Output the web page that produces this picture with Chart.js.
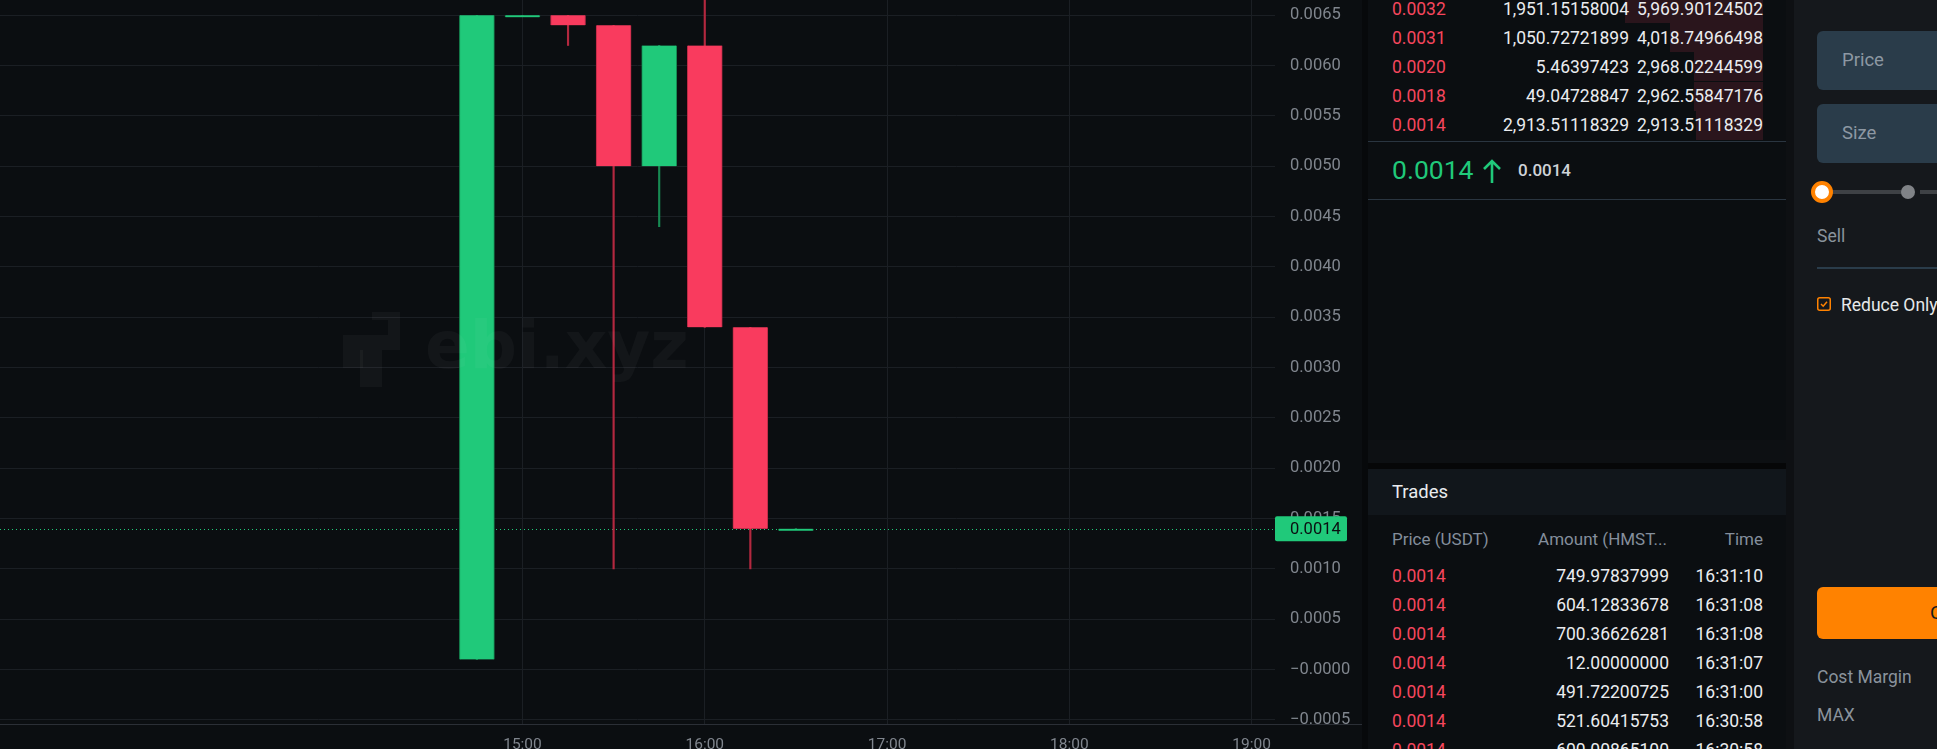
<!DOCTYPE html>
<html>
<head>
<meta charset="utf-8">
<script src="https://cdn.jsdelivr.net/npm/chart.js@4.4.1/dist/chart.umd.min.js"></script>
<style>
  body { margin: 0; width: 1937px; height: 749px; overflow: hidden; background: #0b0e11; font-family: Roboto, "Noto Sans", sans-serif; position: relative; }
  #chartBox { position: absolute; left: 0; top: 0; width: 1362px; height: 749px; }
  .strip { position: absolute; top: 0; height: 749px; }
  #book { position: absolute; left: 1368px; top: 0; width: 418px; height: 749px; background: #0b0e11; overflow: hidden; }
  .row { position: absolute; left: 0; width: 418px; height: 29px; line-height: 29px; font-size: 17.5px; }
  .row span { position: absolute; top: 0; white-space: nowrap; }
  .p { left: 24px; color: #f6465d; }
  .a { right: 157px; color: #eaecef; }
  .t { right: 23px; color: #eaecef; }
  .depth { position: absolute; right: 23px; height: 29px; background: #2a151c; }
  .line { position: absolute; left: 0; width: 418px; height: 1px; background: #2a3540; }
  #last span { position: absolute; white-space: nowrap; }
  #last .big { left: 24px; top: 152px; line-height: 36px; color: #20c97a; font-size: 26.5px; }
  #last .mark { left: 150px; top: 158px; line-height: 24px; color: #cfd3d8; font-size: 17px; font-weight: 500; }
  #last svg { position: absolute; left: 113px; top: 158px; }
  #trHead { position: absolute; left: 0; top: 469px; width: 418px; height: 46px; background: #11161b; }
  #trHead span { position: absolute; left: 24px; top: 0; line-height: 46px; font-size: 18.5px; color: #eaecef; }
  .hd { color: #848e9c !important; }
  #side { position: absolute; left: 1794px; top: 0; width: 143px; height: 749px; background: #15181c; overflow: hidden; }
  .lbl { position: absolute; left: 23px; font-size: 17.5px; color: #8a939c; white-space: nowrap; line-height: 22px; }
  .inp { position: absolute; left: 23px; width: 200px; height: 59px; background: #2a3c4a; border-radius: 6px; }
  .inp span { position: absolute; left: 25px; top: 0; line-height: 59px; font-size: 18.5px; color: #8d98a3; }
</style>
</head>
<body>
<div id="chartBox"><canvas id="chart"></canvas></div>
<div class="strip" style="left:1362px;width:6px;background:#07090b"></div>
<div class="strip" style="left:1786px;width:8px;background:#0e1013"></div>

<div id="book">
  <div class="depth" style="left:257px;top:-6px"></div>
  <div class="depth" style="left:302px;top:23px"></div>
  <div class="depth" style="left:326px;top:52px"></div>
  <div class="depth" style="left:326px;top:82px"></div>
  <div class="depth" style="left:328px;top:111px"></div>
  <div class="row" style="top:-5px"><span class="p">0.0032</span><span class="a">1,951.15158004</span><span class="t">5,969.90124502</span></div>
  <div class="row" style="top:24px"><span class="p">0.0031</span><span class="a">1,050.72721899</span><span class="t">4,018.74966498</span></div>
  <div class="row" style="top:53px"><span class="p">0.0020</span><span class="a">5.46397423</span><span class="t">2,968.02244599</span></div>
  <div class="row" style="top:82px"><span class="p">0.0018</span><span class="a">49.04728847</span><span class="t">2,962.55847176</span></div>
  <div class="row" style="top:111px"><span class="p">0.0014</span><span class="a">2,913.51118329</span><span class="t">2,913.51118329</span></div>
  <div class="line" style="top:141px"></div>
  <div id="last">
    <span class="big">0.0014</span>
    <svg width="22" height="26" viewBox="0 0 22 26"><path d="M11 25 V3 M3 11 L11 3 L19 11" stroke="#20c97a" stroke-width="2.6" fill="none"/></svg>
    <span class="mark">0.0014</span>
  </div>
  <div class="line" style="top:199px"></div>

  <div style="position:absolute;left:0;top:440px;width:418px;height:23px;background:#0d1013"></div>
  <div style="position:absolute;left:0;top:463px;width:418px;height:6px;background:#060708"></div>
  <div id="trHead"><span>Trades</span></div>
  <div class="row" style="top:525px;font-size:17px"><span class="p hd">Price (USDT)</span><span class="a hd" style="right:119px">Amount (HMST...</span><span class="t hd">Time</span></div>
  <div class="row" style="top:562px"><span class="p">0.0014</span><span class="a" style="right:117px">749.97837999</span><span class="t">16:31:10</span></div>
  <div class="row" style="top:591px"><span class="p">0.0014</span><span class="a" style="right:117px">604.12833678</span><span class="t">16:31:08</span></div>
  <div class="row" style="top:620px"><span class="p">0.0014</span><span class="a" style="right:117px">700.36626281</span><span class="t">16:31:08</span></div>
  <div class="row" style="top:649px"><span class="p">0.0014</span><span class="a" style="right:117px">12.00000000</span><span class="t">16:31:07</span></div>
  <div class="row" style="top:678px"><span class="p">0.0014</span><span class="a" style="right:117px">491.72200725</span><span class="t">16:31:00</span></div>
  <div class="row" style="top:707px"><span class="p">0.0014</span><span class="a" style="right:117px">521.60415753</span><span class="t">16:30:58</span></div>
  <div class="row" style="top:736px"><span class="p">0.0014</span><span class="a" style="right:117px">600.00865100</span><span class="t">16:30:58</span></div>
</div>

<div id="side">
  <div class="lbl" style="top:-17px">Avbl</div>
  <div class="inp" style="top:31px"><span>Price</span></div>
  <div class="inp" style="top:104px"><span>Size</span></div>
  <div style="position:absolute;left:28px;top:190px;width:82px;height:4px;background:#3e4145"></div>
  <div style="position:absolute;left:126px;top:190px;width:40px;height:4px;background:#3e4145"></div>
  <div style="position:absolute;left:107px;top:185px;width:14px;height:14px;border-radius:50%;background:#808387"></div>
  <div style="position:absolute;left:17px;top:181px;width:14px;height:14px;border-radius:50%;background:#fff;border:4px solid #ff8200"></div>
  <div class="lbl" style="top:225px">Sell</div>
  <div style="position:absolute;left:23px;top:267px;width:140px;height:2px;background:#2a3c4a"></div>
  <svg style="position:absolute;left:23px;top:297px" width="14" height="14" viewBox="0 0 14 14"><rect x="0.75" y="0.75" width="12.5" height="12.5" rx="2" stroke="#ff8200" stroke-width="1.5" fill="none"/><path d="M4 7 L6.2 9.2 L10 4.8" stroke="#ff8200" stroke-width="1.5" fill="none"/></svg>
  <div class="lbl" style="top:294px;left:47px;color:#e6e8ea">Reduce Only</div>
  <div style="position:absolute;left:23px;top:587px;width:200px;height:52px;background:#ff8200;border-radius:6px"><span style="position:absolute;left:113px;line-height:52px;font-size:19px;color:#181a1d">Close</span></div>
  <div class="lbl" style="top:666px">Cost Margin</div>
  <div class="lbl" style="top:704px">MAX</div>
</div>

<script>
// candles, 15 minute bars
const candleTimes = ['14:45', '15:00', '15:15', '15:30', '15:45', '16:00', '16:15', '16:30'];
const openPrices  = [0.0001, 0.0065, 0.0065, 0.0064, 0.0050, 0.0062, 0.0034, 0.0014];
const highPrices  = [0.0065, 0.0065, 0.0065, 0.0064, 0.0062, 0.0067, 0.0034, 0.0014];
const lowPrices   = [0.0001, 0.0065, 0.0062, 0.0010, 0.0044, 0.0034, 0.0010, 0.0014];
const closePrices = [0.0065, 0.0065, 0.0064, 0.0050, 0.0062, 0.0034, 0.0014, 0.0014];

const xTickLabels = ['15:00', '16:00', '17:00', '18:00', '19:00'];
const yTickValues = [-0.0005, 0, 0.0005, 0.0010, 0.0015, 0.0020, 0.0025, 0.0030, 0.0035, 0.0040, 0.0045, 0.0050, 0.0055, 0.0060, 0.0065];
const lastPrice = 0.0014;

const UP = '#20c97a', DOWN = '#f93b5e';
const GRID = '#1b1f24', TXT = '#80868e';

const toHours = t => { const [h, m] = t.split(':'); return +h + (+m) / 60; };
const hourLabel = v => String(Math.round(v)).padStart(2, '0') + ':00';
const priceLabel = v => (v <= 0 ? '\u2212' : '') + Math.abs(v).toFixed(4);

const isUp = closePrices.map((c, i) => c >= openPrices[i]);

// price line + tag, watermark
const extras = {
    id: 'extras',
    beforeDatasetsDraw(chart) {
        const { ctx, chartArea, scales } = chart;
        const y = Math.round(scales.y.getPixelForValue(lastPrice)) + 0.5;
        ctx.save();
        ctx.strokeStyle = UP;
        ctx.lineWidth = 1;
        ctx.setLineDash([1, 3]);
        ctx.beginPath();
        ctx.moveTo(chartArea.left, y);
        ctx.lineTo(chartArea.right, y);
        ctx.stroke();
        ctx.restore();
    },
    afterDatasetsDraw(chart) {
        const ctx = chart.ctx;
        ctx.save();
        ctx.fillStyle = 'rgba(255,255,255,0.035)';
        ctx.font = 'bold 66px "DejaVu Sans"';
        ctx.textBaseline = 'alphabetic';
        ctx.fillText('ebi.xyz', 425, 368);
        ctx.fillRect(388, 312, 12, 38);
        ctx.fillRect(372, 312, 16, 8);
        ctx.fillRect(343, 335, 45, 15);
        ctx.fillRect(343, 350, 20, 18);
        ctx.fillRect(360, 350, 22, 37);
        ctx.restore();
    },
    afterDraw(chart) {
        const { ctx, chartArea, scales } = chart;
        const y = scales.y.getPixelForValue(lastPrice);
        ctx.save();
        // x axis line
        ctx.fillStyle = '#2b2f36';
        ctx.fillRect(0, chartArea.bottom, chart.width, 1);
        ctx.fillStyle = UP;
        ctx.beginPath();
        ctx.roundRect(chartArea.right, y - 12.5, 72, 25, 2);
        ctx.fill();
        ctx.fillStyle = '#0b0e11';
        ctx.font = '16.5px Roboto';
        ctx.textBaseline = 'middle';
        ctx.fillText(lastPrice.toFixed(4), chartArea.right + 15, y + 1);
        ctx.restore();
    }
};

new Chart(document.getElementById('chart'), {
    type: 'bar',
    data: {
        datasets: [{
            label: 'body',
            data: candleTimes.map((t, i) => ({ x: toHours(t), y: [openPrices[i], closePrices[i]] })),
            backgroundColor: isUp.map(u => u ? UP : DOWN),
            borderColor: isUp.map(u => u ? '#168a52' : '#b82b46'),
            borderWidth: { left: 1, right: 1, top: 0, bottom: 0 },
            borderSkipped: false,
            barThickness: 35,
            minBarLength: 2,
            grouped: false,
            order: 1
        }, {
            label: 'wick',
            data: candleTimes.map((t, i) => ({ x: toHours(t), y: [lowPrices[i], highPrices[i]] })),
            backgroundColor: isUp.map(u => u ? '#178a53' : '#b3283f'),
            barThickness: 1.5,
            grouped: false,
            order: 2
        }]
    },
    options: {
        responsive: true,
        maintainAspectRatio: false,
        animation: false,
        layout: { padding: 0 },
        plugins: { legend: { display: false }, tooltip: { enabled: false } },
        scales: {
            x: {
                type: 'linear',
                min: 12.134,
                max: 19.128,
                offset: false,
                afterBuildTicks: s => { s.ticks = xTickLabels.map(l => ({ value: toHours(l) })); },
                afterFit: s => { s.height = 25; s.paddingLeft = 0; s.paddingRight = 0; },
                grid: { color: GRID, drawTicks: false, offset: false },
                border: { display: false },
                ticks: {
                    color: TXT, font: { family: 'Roboto', size: 15.5 }, padding: 12,
                    autoSkip: false, maxRotation: 0, callback: v => hourLabel(v)
                }
            },
            y: {
                position: 'right',
                min: -0.000541,
                max: 0.006652,
                afterBuildTicks: s => { s.ticks = yTickValues.map(v => ({ value: v })); },
                afterFit: s => { s.width = 87; s.paddingTop = 0; s.paddingBottom = 0; },
                grid: { color: GRID, drawTicks: false },
                border: { display: false },
                ticks: {
                    color: TXT, font: { family: 'Roboto', size: 16.5 }, padding: 15,
                    crossAlign: 'near', callback: v => priceLabel(v)
                }
            }
        }
    },
    plugins: [extras]
});
</script>
</body>
</html>
